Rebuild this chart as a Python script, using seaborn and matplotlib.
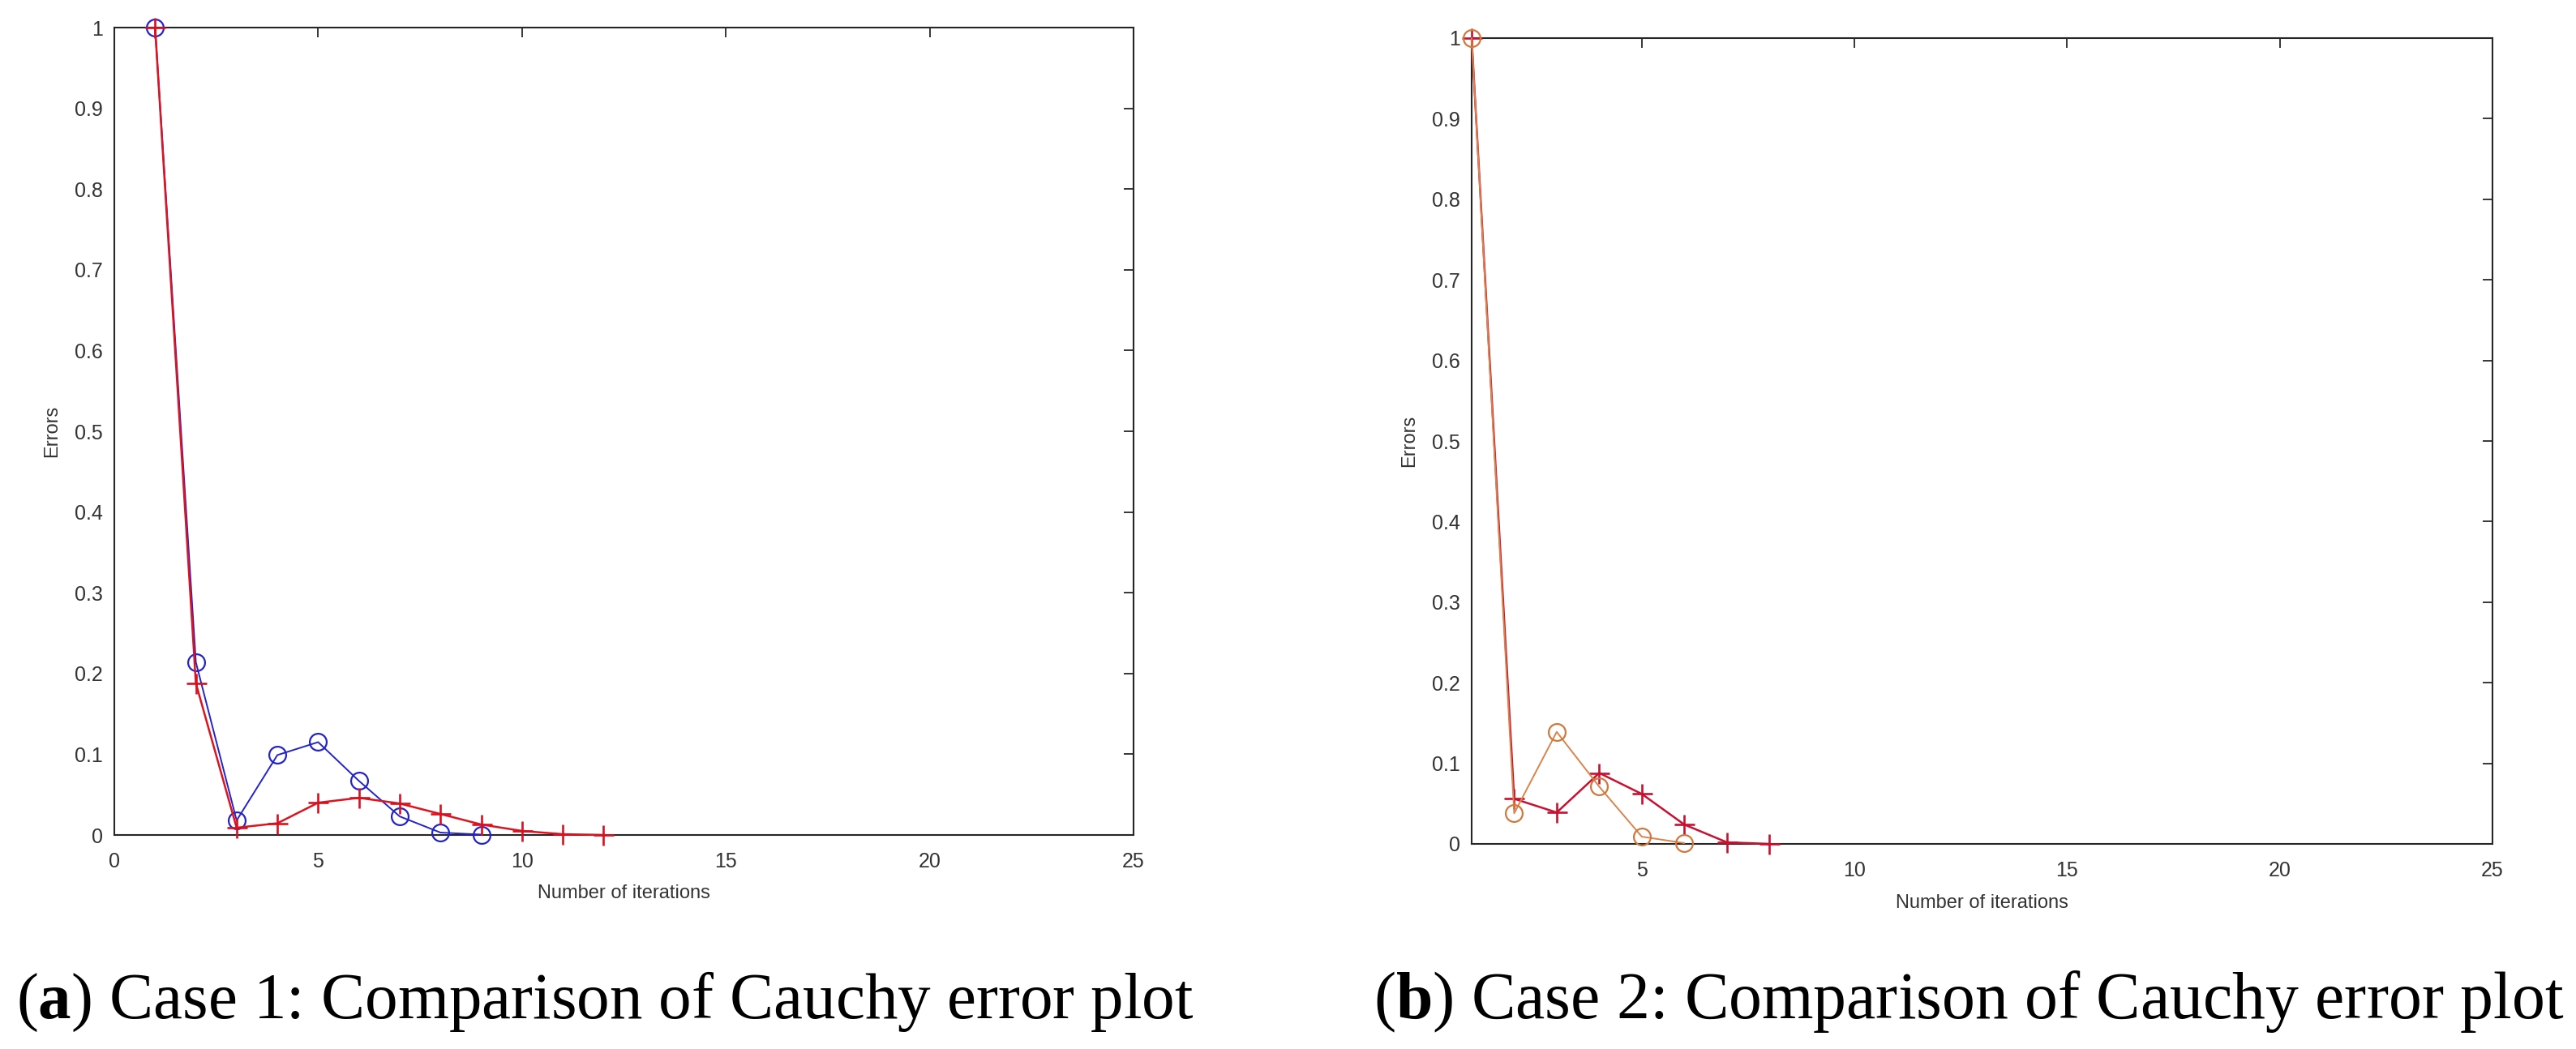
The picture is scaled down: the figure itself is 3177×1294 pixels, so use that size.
import matplotlib
matplotlib.use("Agg")
import matplotlib.pyplot as plt
import seaborn as sns
import pandas as pd

# ---------------- data ----------------
iter_a_blue = [1, 2, 3, 4, 5, 6, 7, 8, 9]
err_a_blue = [1.0, 0.214, 0.018, 0.099, 0.115, 0.067, 0.023, 0.003, 0.0005]
iter_a_red = [1, 2, 3, 4, 5, 6, 7, 8, 9, 10, 11, 12]
err_a_red = [1.0, 0.188, 0.009, 0.0145, 0.040, 0.046, 0.039, 0.026, 0.013, 0.005, 0.001, 0.0]

iter_b_orange = [1, 2, 3, 4, 5, 6]
err_b_orange = [1.0, 0.038, 0.139, 0.071, 0.009, 0.001]
iter_b_red = [1, 2, 3, 4, 5, 6, 7, 8]
err_b_red = [1.0, 0.056, 0.039, 0.088, 0.062, 0.024, 0.002, 0.0]

yticks = [0, 0.1, 0.2, 0.3, 0.4, 0.5, 0.6, 0.7, 0.8, 0.9, 1.0]
ytick_labels = ["0", "0.1", "0.2", "0.3", "0.4", "0.5", "0.6", "0.7", "0.8", "0.9", "1"]
xticks_a = [0, 5, 10, 15, 20, 25]
xticks_b = [5, 10, 15, 20, 25]
xlabel = "Number of iterations"
ylabel = "Errors"
caption_a = r"($\mathbf{a}$) Case 1: Comparison of Cauchy error plot"
caption_b = r"($\mathbf{b}$) Case 2: Comparison of Cauchy error plot"

# ---------------- style ----------------
sns.set_style("white")
plt.rcParams["font.family"] = ["Liberation Sans", "DejaVu Sans"]
plt.rcParams["mathtext.fontset"] = "custom"
plt.rcParams["mathtext.rm"] = "Liberation Serif"
plt.rcParams["mathtext.bf"] = "Liberation Serif:bold"

W, H = 3177, 1294
DPI = 100
fig = plt.figure(figsize=(W / DPI, H / DPI), dpi=DPI)
fig.patch.set_facecolor("white")

def frac_axes(x0, y0, x1, y1):
    return fig.add_axes([x0 / W, 1 - y1 / H, (x1 - x0) / W, (y1 - y0) / H])

ax_a = frac_axes(141, 34, 1398, 1030)
ax_b = frac_axes(1815, 47, 3074, 1041)

def style_axes(ax, xlim, xticks):
    ax.set_xlim(*xlim)
    ax.set_ylim(0, 1)
    ax.set_xticks(xticks)
    ax.set_xticklabels([str(t) for t in xticks])
    ax.set_yticks(yticks)
    ax.set_yticklabels(ytick_labels)
    for s in ax.spines.values():
        s.set_visible(True)
        s.set_color("#262626")
        s.set_linewidth(1.5)
    ax.tick_params(axis="both", which="major", direction="in", length=8.5,
                   width=1.3, color="#262626", top=True, right=True,
                   labelsize=18, labelcolor="#333333")
    ax.tick_params(axis="x", pad=15)
    ax.tick_params(axis="y", pad=10)
    ax.set_xlabel(xlabel, fontsize=17, color="#333333", labelpad=12)
    ax.set_ylabel(ylabel, fontsize=17, color="#333333", labelpad=12)
    ax.set_facecolor("white")

# Panel (a)
df_ab = pd.DataFrame({"it": iter_a_blue, "err": err_a_blue})
df_ar = pd.DataFrame({"it": iter_a_red, "err": err_a_red})
sns.lineplot(data=df_ab, x="it", y="err", ax=ax_a, color="#2323c8", linewidth=1.4,
             marker="o", markersize=15, markerfacecolor="none",
             markeredgecolor="#2323c8", markeredgewidth=1.6, clip_on=False, zorder=3)
sns.lineplot(data=df_ar, x="it", y="err", ax=ax_a, color="#dc1420", linewidth=1.8,
             marker="+", markersize=18, markeredgecolor="#d81020",
             markeredgewidth=1.9, clip_on=False, zorder=4)
style_axes(ax_a, (0, 25), xticks_a)

# Panel (b)
df_bo = pd.DataFrame({"it": iter_b_orange, "err": err_b_orange})
df_br = pd.DataFrame({"it": iter_b_red, "err": err_b_red})
sns.lineplot(data=df_br, x="it", y="err", ax=ax_b, color="#c81030", linewidth=1.8,
             marker="+", markersize=18, markeredgecolor="#c81030",
             markeredgewidth=1.9, clip_on=False, zorder=3)
sns.lineplot(data=df_bo, x="it", y="err", ax=ax_b, color="#d8844c", linewidth=1.4,
             marker="o", markersize=15, markerfacecolor="none",
             markeredgecolor="#d0783c", markeredgewidth=1.6, clip_on=False, zorder=4)
style_axes(ax_b, (1, 25), xticks_b)

# Captions (fit width to reference)
cap_kw = dict(family=["Liberation Serif", "DejaVu Serif"], color="black",
              va="baseline", ha="left")
ta = fig.text(20 / W, 1 - 1256 / H, caption_a, fontsize=50, **cap_kw)
tb = fig.text(1694 / W, 1 - 1256 / H, caption_b, fontsize=50, **cap_kw)
fig.canvas.draw()
r = fig.canvas.get_renderer()
for t, target in ((ta, 1455), (tb, 1471)):
    w = t.get_window_extent(r).width
    t.set_fontsize(50 * target / w)

fig.savefig("out.png", dpi=DPI, facecolor="white")
